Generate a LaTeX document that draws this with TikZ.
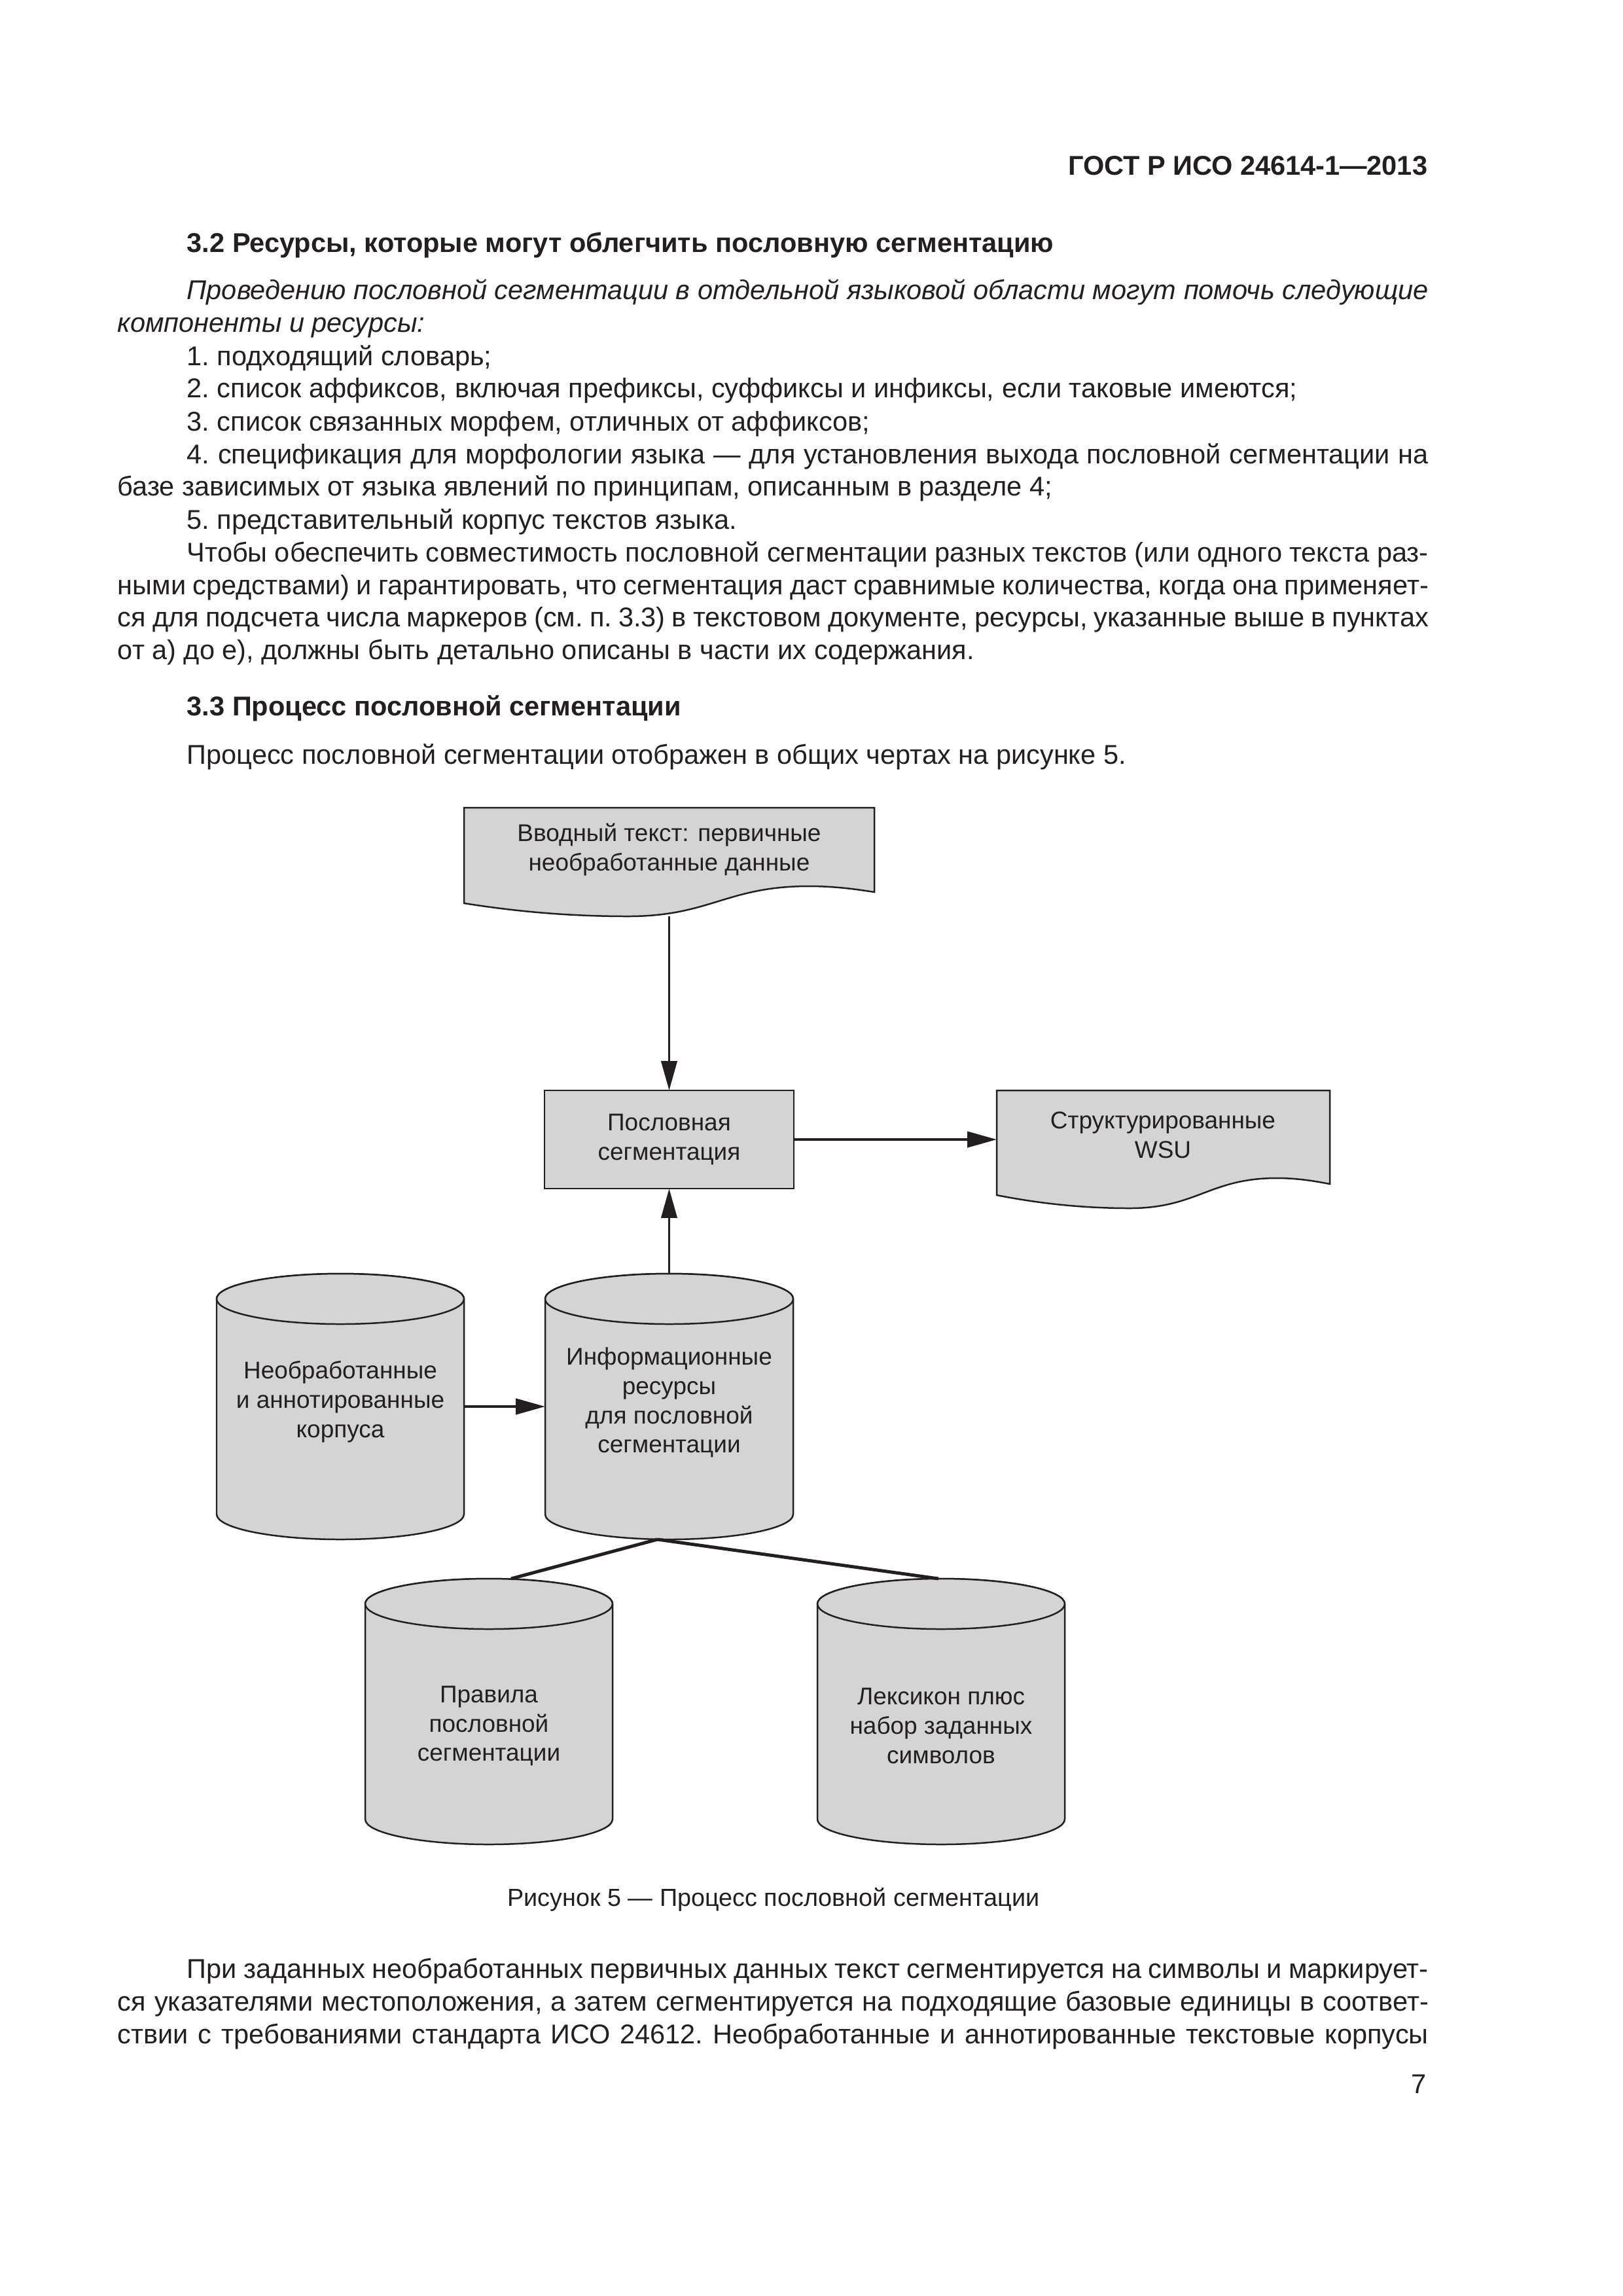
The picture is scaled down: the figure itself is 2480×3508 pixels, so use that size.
\documentclass[tikz,border=0pt]{standalone}
\usepackage{fontspec}
\setmainfont{Liberation Sans}
\usetikzlibrary{positioning,calc,arrows.meta}

\definecolor{ink}{HTML}{231F20}
\definecolor{shade}{HTML}{D4D4D4}
\newcommand{\pxu}{0.24093pt}
\newcommand{\bodyfont}{\fontsize{10}{12}\selectfont\frenchspacing}
\newcommand{\diagfont}{\fontsize{8.9}{10.8}\selectfont}
\newcommand{\fullline}[1]{\makebox[482.6pt][s]{#1}}
\newcommand{\indline}[1]{\makebox[457pt][s]{#1}}

\tikzset{
  shapeline/.style={draw=ink, fill=shade, line width=0.6pt},
  holder/.style={inner sep=0pt, outer sep=0pt},
  flow/.style={draw=ink, line width=0.9pt, -{Triangle[length=10.8pt,width=5.8pt]}},
  link/.style={draw=ink, line width=1.2pt},
  txt/.style={anchor=base west, inner sep=0pt, text=ink, font=\bodyfont},
  lbl/.style={inner sep=0pt, text=ink, font=\diagfont, align=center}
}

% document sheet with a wavy lower edge
\newcommand{\docshape}[1]{%
  \filldraw[shapeline] (#1.north west) -- (#1.north east)
    -- ($(#1.south east)+(0,-37)$)
    .. controls ($(#1.south west)!0.95!(#1.south east)+(0,-42)$) and ($(#1.south west)!0.9!(#1.south east)+(0,-46)$) .. ($(#1.south west)!0.84!(#1.south east)+(0,-46)$)
    .. controls ($(#1.south west)!0.64!(#1.south east)+(0,-46)$) and ($(#1.south west)!0.6!(#1.south east)$) .. ($(#1.south west)!0.4!(#1.south east)$)
    .. controls ($(#1.south west)!0.25!(#1.south east)$) and ($(#1.south west)!0.12!(#1.south east)+(0,-8)$) .. ($(#1.south west)+(0,-20)$)
    -- cycle;}

% drum (database) shape
\newcommand{\drumshape}[3]{%
  \filldraw[shapeline] ($(#1.north west)+(0,#3)$) -- ($(#1.south west)+(0,-#3)$)
    arc[start angle=180, end angle=360, x radius=#2*\pxu, y radius=#3*\pxu]
    -- ($(#1.north east)+(0,#3)$)
    arc[start angle=0, end angle=180, x radius=#2*\pxu, y radius=#3*\pxu] -- cycle;
  \filldraw[shapeline] ($(#1.north)+(0,#3)$) ellipse[x radius=#2*\pxu, y radius=#3*\pxu];}

\begin{document}
\begin{tikzpicture}[x=\pxu, y=-\pxu]
\fill[white] (0,0) rectangle (2480,3508);
\useasboundingbox (0,0) rectangle (2480,3508);

\node[txt, anchor=base east, font=\fontsize{10}{12}\selectfont\bfseries] (head) at (2182,267) {ГОСТ Р ИСО 24614-1—2013};

\node[txt, font=\bodyfont\bfseries] (h32) at (285,385) {3.2 Ресурсы, которые могут облегчить пословную сегментацию};
\node[txt, font=\bodyfont\itshape] (l1) at (285,457) {\indline{Проведению пословной сегментации в отдельной языковой области могут помочь следующие}};
\node[txt, font=\bodyfont\itshape] (l2) at (179,507) {компоненты и ресурсы:};
\node[txt] (l3) at (285,558) {1. подходящий словарь;};
\node[txt] (l4) at (285,607) {2. список аффиксов, включая префиксы, суффиксы и инфиксы, если таковые имеются;};
\node[txt] (l5) at (285,658) {3. список связанных морфем, отличных от аффиксов;};
\node[txt] (l6) at (285,708) {\indline{4. спецификация для морфологии языка — для установления выхода пословной сегментации на}};
\node[txt] (l7) at (179,757) {базе зависимых от языка явлений по принципам, описанным в разделе 4;};
\node[txt] (l8) at (285,808) {5. представительный корпус текстов языка.};
\node[txt] (l9) at (285,858) {\indline{Чтобы обеспечить совместимость пословной сегментации разных текстов (или одного текста раз-}};
\node[txt] (l10) at (179,908) {\fullline{ными средствами) и гарантировать, что сегментация даст сравнимые количества, когда она применяет-}};
\node[txt] (l11) at (179,957) {\fullline{ся для подсчета числа маркеров (см. п. 3.3) в текстовом документе, ресурсы, указанные выше в пунктах}};
\node[txt] (l12) at (179,1007) {от а) до е), должны быть детально описаны в части их содержания.};
\node[txt, font=\bodyfont\bfseries] (h33) at (285,1093) {3.3 Процесс пословной сегментации};
\node[txt] (l13) at (285,1167) {Процесс пословной сегментации отображен в общих чертах на рисунке 5.};

\node[holder, minimum width=627*\pxu, minimum height=166*\pxu] (in) at (1022.5,1317) {};
\node[holder, draw=ink, fill=shade, line width=0.6pt, minimum width=381*\pxu, minimum height=150*\pxu,
      font=\diagfont, align=center, text=ink] (seg) at (1022.5,1741) {Пословная\\сегментация};
\node[holder, minimum width=509*\pxu, minimum height=180*\pxu] (wsu) at (1777.5,1756) {};
\node[holder, minimum width=378*\pxu, minimum height=406*\pxu] (raw) at (520,2149) {};
\node[holder, minimum width=379*\pxu, minimum height=406*\pxu] (info) at (1022.5,2149) {};
\node[holder, minimum width=378*\pxu, minimum height=406*\pxu] (rules) at (747,2615) {};
\node[holder, minimum width=378*\pxu, minimum height=406*\pxu] (lex) at (1438,2615) {};

\docshape{in}
\docshape{wsu}
\drumshape{raw}{189}{38.5}
\drumshape{info}{189.5}{38.5}
\drumshape{rules}{189}{38.5}
\drumshape{lex}{189}{38.5}

\node[lbl] (inlbl) at (1022.5,1298) {Вводный текст: первичные\\необработанные данные};
\node[lbl] (wsulbl) at (1777,1734) {Структурированные\\WSU};
\node[lbl] (rawlbl) at (520,2142) {Необработанные\\и аннотированные\\корпуса};
\node[lbl] (infolbl) at (1022.5,2143) {Информационные\\ресурсы\\для пословной\\сегментации};
\node[lbl] (ruleslbl) at (747,2637) {Правила\\пословной\\сегментации};
\node[lbl] (lexlbl) at (1438,2637) {Лексикон плюс\\набор заданных\\символов};

\draw[flow] (in.south) -- (seg.north);
\draw[flow] (seg.east) -- (seg.east -| wsu.west);
\draw[flow] (info.north) -- (seg.south);
\draw[flow] (raw.east) -- (info.west);
\draw[link] ($(info.south)+(-18,0)$) -- ($(rules.north)+(34,0)$);
\draw[link] ($(info.south)+(-18,0)$) -- ($(lex.north)+(-4,0)$);

\node[txt, anchor=base, font=\fontsize{9.1}{12}\selectfont] (cap) at (1182,2912) {Рисунок 5 — Процесс пословной сегментации};

\node[txt] (l14) at (285,3022) {\indline{При заданных необработанных первичных данных текст сегментируется на символы и маркирует-}};
\node[txt] (l15) at (179,3072) {\fullline{ся указателями местоположения, а затем сегментируется на подходящие базовые единицы в соответ-}};
\node[txt] (l16) at (179,3122) {\fullline{ствии с требованиями стандарта ИСО 24612. Необработанные и аннотированные текстовые корпусы}};
\node[txt, anchor=base east] (pnum) at (2180,3198) {7};
\end{tikzpicture}
\end{document}
